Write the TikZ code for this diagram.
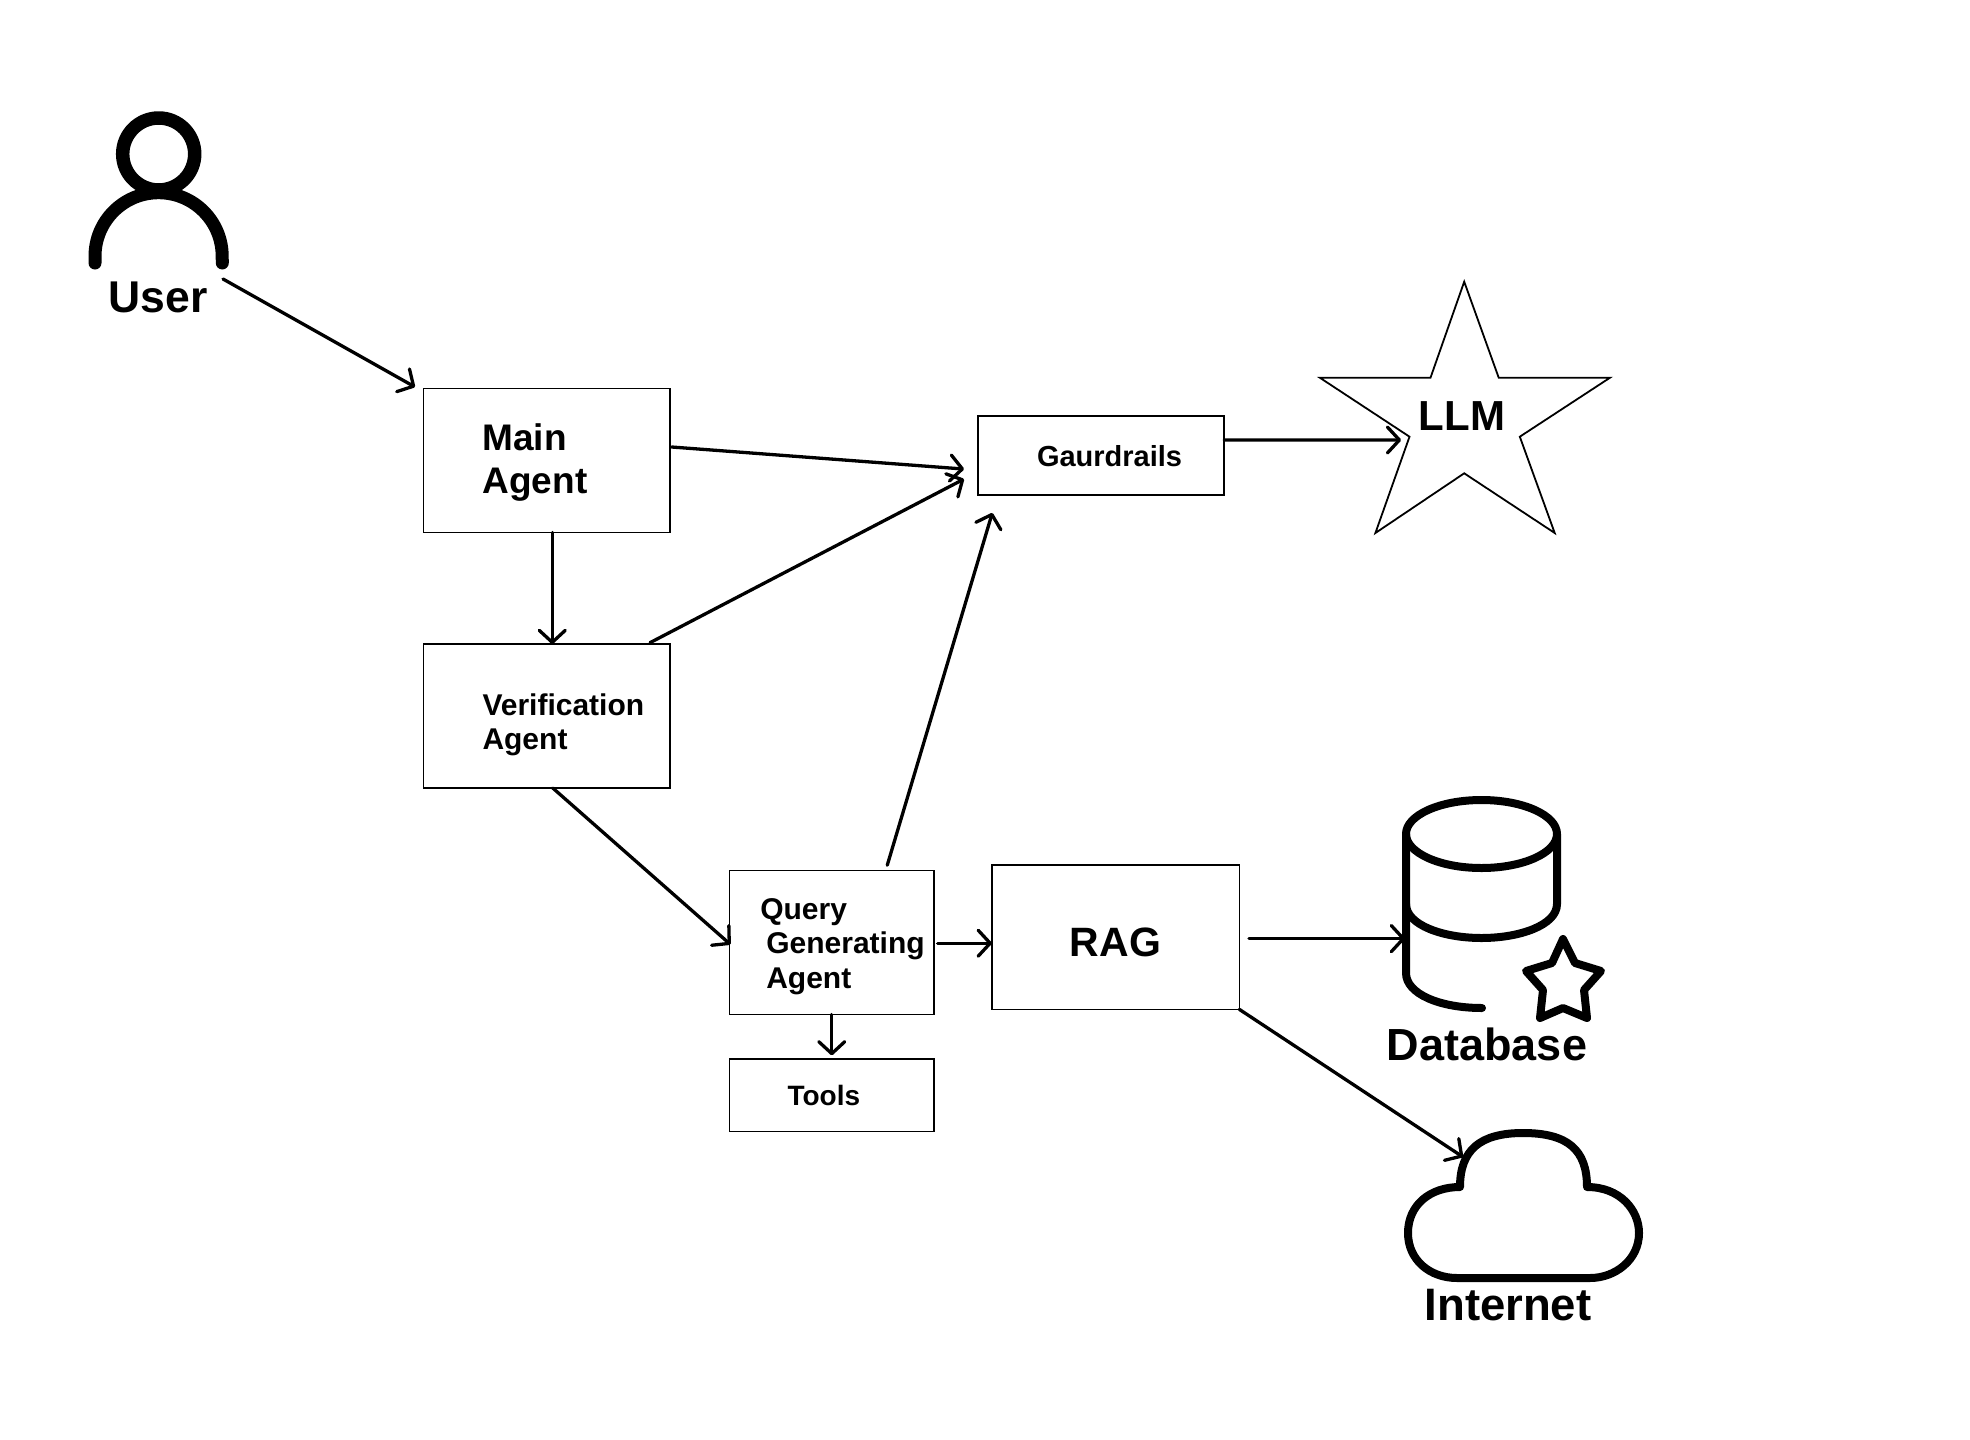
\documentclass[tikz,border=0pt]{standalone}
\usepackage{fontspec}
\setmainfont{Liberation Sans}
\usetikzlibrary{arrows.meta}
\usetikzlibrary{positioning}

\tikzset{
  agentbox/.style 2 args={draw=black,line width=1.8pt,anchor=north west,inner ysep=0pt,outer sep=0pt,inner xsep=#1,
    text width=#2,align=flush left},
  flow/.style={line width=3.3pt,line cap=round,-{Straight Barb[length=12pt,width=26pt,line width=3.3pt,round]}},
  icon/.style={line width=8pt,line cap=round,line join=round},
  iconlabel/.style={font=\fontsize{#1}{50}\selectfont\bfseries,anchor=base,inner sep=0pt},
}

\begin{document}
\begin{tikzpicture}[x=1pt,y=-1pt]
\useasboundingbox[fill=white] (0,0) rectangle (1970,1440);

% user
\draw[icon,line width=13.5pt] (158.7,154) circle[radius=36pt];
\draw[icon,line width=13pt] (95,263) -- (95,256.3) arc[start angle=180,end angle=0,radius=63.6pt] -- (222.3,263);
\node[iconlabel=44.5] (user) at (158,312) {User};
\coordinate (userout) at (223,279);

% boxes
\node[agentbox={59pt}{128.5pt},minimum height=144pt,font=\fontsize{37}{43}\selectfont\bfseries] (mainbox) at (423.5,388.5) {\rule{0pt}{31pt}Main\\Agent};
\node[agentbox={59pt}{128.5pt},minimum height=144pt,font=\fontsize{30}{34}\selectfont\bfseries] (verifbox) at (423.5,644) {\rule{0pt}{40pt}Verification\\Agent};
\node[agentbox={30.8pt}{142.9pt},minimum height=144pt,font=\fontsize{30}{34.5}\selectfont\bfseries] (querybox) at (729.5,870.5) {\rule{0pt}{29pt}\mbox{Query}\\\hspace*{6pt}\mbox{Generating}\\\hspace*{6pt}\mbox{Agent}};
\node[agentbox={58pt}{88.5pt},minimum height=72.5pt,font=\fontsize{28}{34}\selectfont\bfseries] (toolsbox) at (729.5,1059) {Tools};
\node[agentbox={78pt}{91.6pt},minimum height=144.6pt,font=\fontsize{41}{48}\selectfont\bfseries] (ragbox) at (991.8,864.8) {\rule{0pt}{40pt}RAG};
\node[agentbox={59pt}{128.3pt},minimum height=79.3pt,font=\fontsize{29}{35}\selectfont\bfseries] (gaurdbox) at (978,416) {Gaurdrails};

% llm
\draw[line width=1.8pt,line join=miter] (1464.2,281.7) -- (1498.7,377.7) -- (1610,377.7) -- (1519.8,436.7) -- (1554.7,533) -- (1464.2,473.3) -- (1375.4,533) -- (1409.5,436.7) -- (1319.8,377.7) -- (1430.5,377.7) -- cycle;
\node[font=\fontsize{42}{48}\selectfont\bfseries,inner sep=0pt,anchor=base] (llm) at (1462,430.7) {LLM};

% database
\draw[icon] (1481.5,834) ellipse[x radius=75.5,y radius=34];
\draw[icon] (1557,834) -- (1557,904) .. controls (1557,925) and (1520,938) .. (1481.5,938) .. controls (1443,938) and (1406,925) .. (1406,904);
\draw[icon] (1406,834) -- (1406,973) .. controls (1406,994) and (1440,1008) .. (1482,1008);
\draw[icon] (1563,939) -- (1575,963) -- (1601,971) -- (1584,990) -- (1587,1018) -- (1563,1008) -- (1540,1018) -- (1543,990) -- (1526,971) -- (1552,963) -- cycle;
\node[iconlabel=45] (database) at (1487,1060) {Database};
\coordinate (dbin) at (1405,938.6);

% internet
\draw[icon] (1460,1187) .. controls (1460,1150) and (1480,1133) .. (1523,1133) .. controls (1568,1133) and (1587,1150) .. (1587,1187) .. controls (1620,1187) and (1639,1210) .. (1639,1233) .. controls (1639,1260) and (1615,1278) .. (1590,1278) -- (1457,1278) .. controls (1430,1278) and (1408,1260) .. (1408,1233) .. controls (1408,1205) and (1430,1187) .. (1460,1187) -- cycle;
\node[iconlabel=45.5] (internet) at (1508,1320) {Internet};
\coordinate (cloudin) at (1463,1157);

% connectors
\draw[flow] (userout) -- ([shift={(-8.5pt,1.5pt)}]mainbox.north west);
\draw[flow] ([shift={(1.7pt,13.5pt)}]mainbox.east) -- ([shift={(-14pt,-13.4pt)}]gaurdbox.west);
\draw[flow] ([shift={(-20pt,1.3pt)}]verifbox.north east) -- ([shift={(-14pt,-23.4pt)}]gaurdbox.west);
\draw[flow] ([xshift=5.5pt]mainbox.south) -- ([xshift=5.5pt]verifbox.north);
\draw[flow] ([xshift=6pt]verifbox.south) -- ([shift={(1pt,-2pt)}]querybox.west);
\draw[flow] ([shift={(55.5pt,5.3pt)}]querybox.north) -- ([shift={(14.3pt,-17.6pt)}]gaurdbox.south west);
\draw[flow] ([shift={(3.6pt,-0.7pt)}]querybox.east) -- ([yshift=-0.7pt]ragbox.west |- querybox.east);
\draw[flow] (querybox.south) -- ([yshift=3.7pt]toolsbox.north);
\draw[flow] ([yshift=15.6pt]gaurdbox.east) -- ([shift={(-17.6pt,-9.3pt)}]llm.base west);
\draw[flow] ([shift={(9.6pt,-1.5pt)}]ragbox.east) -- (dbin);
\draw[flow] (ragbox.south east) -- (cloudin);

\end{tikzpicture}
\end{document}
